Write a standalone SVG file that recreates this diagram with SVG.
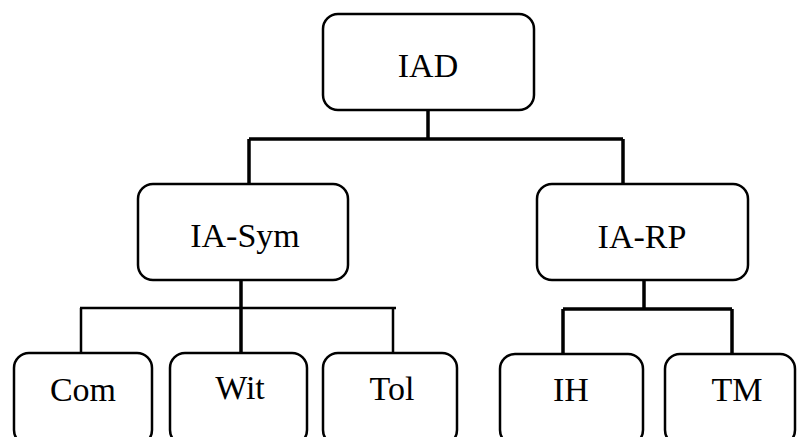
<svg xmlns="http://www.w3.org/2000/svg" width="797" height="437" viewBox="0 0 797 437">
<style>
.box{fill:#fff;stroke:#000;stroke-width:2.5}
.lbl{font-family:'Liberation Serif','Times New Roman','DejaVu Serif',serif;font-size:34px;fill:#000;text-anchor:middle}
.ln{fill:none;stroke:#000;stroke-width:3.5}
.ln2{fill:none;stroke:#000;stroke-width:2.5}
</style>
<rect width="797" height="437" fill="#fff"/>
<g id="connectors">
<path class="ln" d="M428 110 V139 M249 139 H623 M249 139 V184 M623 139 V184"/>
<path class="ln" d="M241 280 V353"/>
<path class="ln2" d="M80 308 H396 M81 308 V353 M393 308 V353"/>
<path class="ln" d="M644 280 V309 M563 309 H732 M563 309 V354 M732 309 V354"/>
</g>
<g id="IAD"><rect class="box" x="323" y="14" width="211" height="96" rx="15"/><text class="lbl" x="428" y="77">IAD</text></g>
<g id="IA-Sym"><rect class="box" x="138" y="184" width="210" height="96" rx="15"/><text class="lbl" x="245" y="247">IA-Sym</text></g>
<g id="IA-RP"><rect class="box" x="537" y="184" width="211" height="96" rx="15"/><text class="lbl" x="642" y="248">IA-RP</text></g>
<g id="Com"><rect class="box" x="14" y="353" width="138" height="92" rx="15"/><text class="lbl" x="83" y="401">Com</text></g>
<g id="Wit"><rect class="box" x="170" y="353" width="137" height="92" rx="15"/><text class="lbl" x="240" y="399">Wit</text></g>
<g id="Tol"><rect class="box" x="323" y="353" width="134" height="92" rx="15"/><text class="lbl" x="392" y="400">Tol</text></g>
<g id="IH"><rect class="box" x="500" y="354" width="143" height="91" rx="15"/><text class="lbl" x="571" y="401">IH</text></g>
<g id="TM"><rect class="box" x="665" y="354" width="130" height="91" rx="15"/><text class="lbl" x="737" y="401">TM</text></g>
</svg>
